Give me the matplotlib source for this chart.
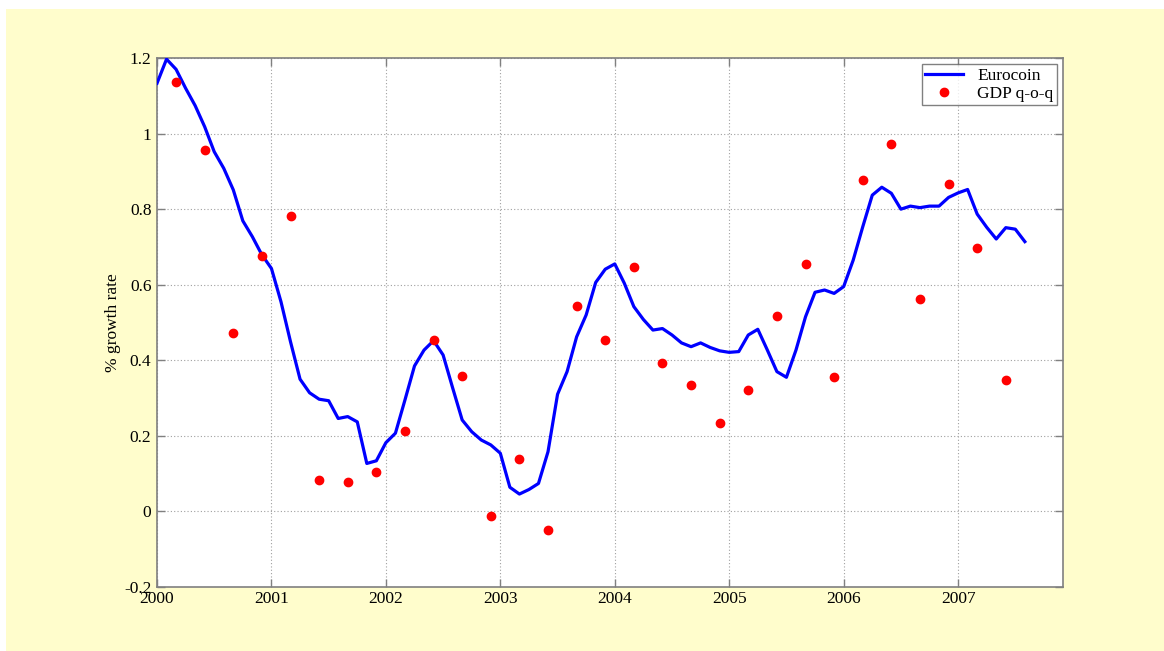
import matplotlib
matplotlib.use("Agg")
import matplotlib.pyplot as plt
import numpy as np
from matplotlib.patches import Rectangle

plt.rcParams['font.family'] = ['Liberation Serif', 'DejaVu Serif']

# Eurocoin, monthly from Jan 2000 (92 months)
eurocoin = [1.133, 1.197, 1.17, 1.12, 1.074, 1.018, 0.952, 0.908, 0.851, 0.769,
            0.727, 0.679, 0.643, 0.555, 0.449, 0.350, 0.314, 0.297, 0.293, 0.246,
            0.251, 0.237, 0.127, 0.134, 0.182, 0.207, 0.295, 0.385, 0.427, 0.452,
            0.414, 0.327, 0.242, 0.211, 0.189, 0.176, 0.154, 0.064, 0.046, 0.058,
            0.074, 0.158, 0.310, 0.370, 0.462, 0.520, 0.606, 0.641, 0.655, 0.604,
            0.542, 0.508, 0.480, 0.484, 0.467, 0.446, 0.436, 0.446, 0.434, 0.425,
            0.421, 0.423, 0.467, 0.482, 0.427, 0.370, 0.355, 0.427, 0.515, 0.580,
            0.586, 0.577, 0.595, 0.665, 0.753, 0.837, 0.858, 0.842, 0.800, 0.808,
            0.804, 0.808, 0.808, 0.831, 0.843, 0.852, 0.787, 0.752, 0.721, 0.751,
            0.747, 0.714]
euro_start = 2000.0

# GDP q-o-q, quarterly, plotted from March 2000
gdp = [1.136, 0.957, 0.472, 0.676, 0.782, 0.084, 0.078, 0.104, 0.213, 0.453,
       0.358, -0.012, 0.138, -0.048, 0.543, 0.455, 0.646, 0.393, 0.334, 0.233,
       0.322, 0.517, 0.655, 0.356, 0.878, 0.972, 0.562, 0.867, 0.697, 0.348]
gdp_start = 2000 + 2 / 12

yticks = [-0.2, 0, 0.2, 0.4, 0.6, 0.8, 1, 1.2]
ytick_labels = ['-0.2', '0', '0.2', '0.4', '0.6', '0.8', '1', '1.2']
xticks = [2000, 2001, 2002, 2003, 2004, 2005, 2006, 2007]

W, H = 1164, 651
fig = plt.figure(figsize=(W / 100, H / 100), dpi=100)
fig.patch.set_facecolor('white')
fig.patches.append(Rectangle((6 / W, 0), 1 - 6 / W, 1 - 9 / H, transform=fig.transFigure,
                             facecolor='#FFFDCC', edgecolor='none', zorder=-10))

ax = fig.add_axes([157 / W, 1 - 587 / H, (1063 - 157) / W, (587 - 58) / H])
ax.set_facecolor('white')

x_euro = euro_start + np.arange(len(eurocoin)) / 12
x_gdp = gdp_start + np.arange(len(gdp)) * 0.25

ax.plot(x_euro, eurocoin, color='#0000FF', lw=2.3, label='Eurocoin', zorder=3)
ax.plot(x_gdp, gdp, 'o', color='#FF0000', ms=6, mec='#FF0000', label='GDP q-o-q', zorder=4)

ax.set_xlim(2000, 2000 + 95 / 12)
ax.set_ylim(-0.2, 1.2)
ax.set_xticks(xticks)
ax.set_xticklabels([str(t) for t in xticks])
ax.set_yticks(yticks)
ax.set_yticklabels(ytick_labels)

ax.grid(True, linestyle=(0, (1, 2)), color='#A0A0A0', lw=0.8)
for s in ax.spines.values():
    s.set_color('#808080')
    s.set_linewidth(1.2)
ax.tick_params(direction='in', length=6, width=1, color='#808080', labelsize=12.5,
               top=True, right=True, labelcolor='black', pad=4)
ax.tick_params(axis='x', pad=3)

ax.set_ylabel('% growth rate', fontsize=12.5, labelpad=2.5)

leg = ax.legend(loc='upper right', fontsize=12.5, frameon=True, fancybox=False,
                edgecolor='#606060', borderaxespad=0.35, handlelength=2.2,
                borderpad=0.2, labelspacing=0.1)
leg.get_frame().set_linewidth(1.0)

fig.savefig('out.png', dpi=100, facecolor=fig.get_facecolor())
